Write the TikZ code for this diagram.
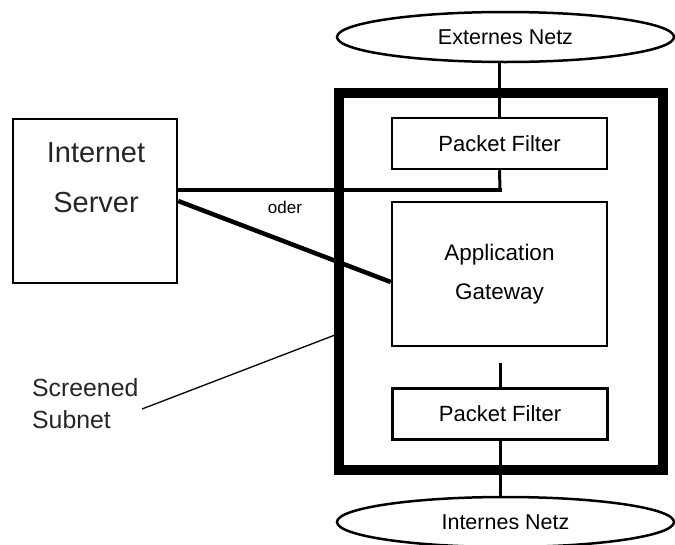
\documentclass[tikz,border=0pt]{standalone}
\usepackage{fontspec}
\setmainfont{Liberation Sans}
\usetikzlibrary{shapes.geometric}
\begin{document}
\begin{tikzpicture}[x=1pt,y=-1pt,
  box/.style={draw,line width=2.5pt,rectangle,inner sep=0pt},
  netz/.style={draw,line width=2.5pt,ellipse,minimum width=337pt,minimum height=50pt,inner sep=0pt,
    font=\fontsize{21.5}{24}\selectfont},
  filterbox/.style={box,minimum width=215pt,minimum height=51pt,font=\fontsize{22}{24}\selectfont},
  link/.style={line width=3pt},
  wire/.style={line width=4.5pt}]
\useasboundingbox (0,0) rectangle (675,544);

% screened subnet border
\node[draw,line width=10pt,rectangle,minimum width=324pt,minimum height=377pt,inner sep=0pt]
  (subnet) at (501,281.5) {};

% networks
\node[netz] (ext) at (505.5,37) {Externes Netz};
\node[netz] (int) at (505.5,522) {Internes Netz};

% firewall components
\node[filterbox] (pf1) at (499.5,143.5) {Packet Filter};
\node[box,minimum width=215pt,minimum height=144pt,align=center,
  font=\fontsize{22.5}{39}\selectfont] (gw) at (499.5,274) {Application\\Gateway};
\node[filterbox] (pf2) at (500,414) {Packet Filter};

% internet server
\node[box,minimum width=164pt,minimum height=164pt] (srv) at (95,201) {};
\node[align=center,inner sep=0pt,font=\fontsize{29}{50}\selectfont,text=black!85]
  (srvtxt) at (96,178) {Internet\\Server};

% connections
\coordinate (join) at (500,190);
\coordinate (gwstub) at (500,363);
\draw[link] (pf1.north) -- (pf1.north |- ext.south);
\draw[link] (pf1.south) -- (join);
\draw[wire] (srv.east |- join) -- ([xshift=1.5pt]join);
\draw[wire] (srv.east) -- ([yshift=-8pt]gw.west);
\node[font=\fontsize{17}{20}\selectfont,inner sep=0pt] (oder) at (285,207) {oder};
\draw[link] (gwstub) -- (pf2.north);
\draw[link] (pf2.south) -- (pf2.south |- int.north);

% label of the subnet
\node[align=left,anchor=west,inner sep=0pt,font=\fontsize{24.8}{32}\selectfont,text=black!85]
  (sslabel) at (32,404) {Screened\\Subnet};
\coordinate (ssend) at (142,409);
\coordinate (ssbox) at (335,335);
\draw[line width=1.3pt] (ssend) -- (ssbox);
\end{tikzpicture}
\end{document}
